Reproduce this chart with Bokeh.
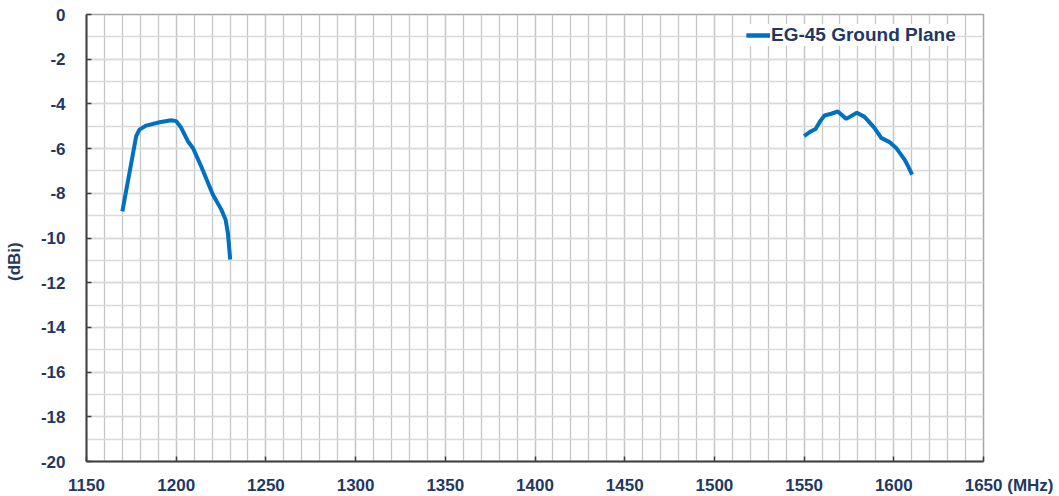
from bokeh.plotting import figure
from bokeh.models import FixedTicker, Legend, LegendItem
from bokeh.embed import file_html
from bokeh.resources import INLINE

# Data
freq_low = [1170, 1177.7, 1179.5, 1183.3, 1190.7, 1197.2, 1200, 1202.8, 1206.5, 1209.3,
            1213.9, 1220.4, 1225.1, 1227.5, 1228.8, 1230.1]
gain_low = [-8.81, -5.44, -5.15, -4.97, -4.82, -4.73, -4.77, -5.07, -5.67, -5.97,
            -6.79, -8.05, -8.72, -9.17, -9.77, -10.96]
freq_high = [1550, 1553.9, 1556.4, 1559, 1561.4, 1565.1, 1568.8, 1573.5, 1579.4, 1583.7,
             1589.2, 1593, 1597.6, 1601.3, 1606, 1607.8, 1610.2]
gain_high = [-5.44, -5.22, -5.12, -4.77, -4.52, -4.44, -4.34, -4.67, -4.40, -4.58,
             -5.07, -5.52, -5.71, -5.97, -6.49, -6.76, -7.16]
series_name = "EG-45 Ground Plane"
x_ticks = list(range(1150, 1651, 50))
x_minor = list(range(1150, 1651, 10))
y_ticks = list(range(-20, 1, 2))
y_minor = list(range(-20, 1, 1))
x_unit = "(MHz)"
y_unit = "(dBi)"

FONT = "Liberation Sans"
TXT = "#1f3864"
BLUE = "#0070c0"
NB = "\u00a0"

p = figure(width=1053, height=494, x_range=(1150, 1650), y_range=(-20, 0),
           output_backend="svg", toolbar_location=None,
           frame_width=897, frame_height=447,
           min_border_left=86, min_border_top=14, min_border_right=70, min_border_bottom=33)
p.background_fill_color = "white"
p.border_fill_color = "white"
p.outline_line_color = "#a6a6a6"
p.outline_line_width = 1.5

p.xaxis.ticker = FixedTicker(ticks=x_ticks, minor_ticks=x_minor)
p.yaxis.ticker = FixedTicker(ticks=y_ticks, minor_ticks=y_minor)

# plain hyphen minus signs, unit appended to the last x tick
p.yaxis.major_label_overrides = {t: str(t) for t in y_ticks}
x_over = {t: str(t) for t in x_ticks}
x_over[x_ticks[-1]] = NB * 11 + str(x_ticks[-1]) + " " + x_unit
p.xaxis.major_label_overrides = x_over

p.xgrid.grid_line_color = "#c6c6c6"
p.xgrid.minor_grid_line_color = "#c6c6c6"
p.xgrid.grid_line_width = 1.3
p.xgrid.minor_grid_line_width = 1.3
p.ygrid.grid_line_color = "#d9d9d9"
p.ygrid.minor_grid_line_color = "#d9d9d9"
p.ygrid.grid_line_width = 1.5
p.ygrid.minor_grid_line_width = 1.5

for ax in (p.xaxis, p.yaxis):
    ax.axis_line_color = "#404040"
    ax.axis_line_width = 2
    ax.major_tick_line_color = "#404040"
    ax.major_tick_line_width = 1.5
    ax.major_tick_in = 5
    ax.major_tick_out = 0
    ax.minor_tick_line_color = None
    ax.major_label_text_font = FONT
    ax.major_label_text_font_style = "bold"
    ax.major_label_text_font_size = "17px"
    ax.major_label_text_color = TXT
p.xaxis.major_label_standoff = 10
p.yaxis.major_label_standoff = 17

p.yaxis.axis_label = y_unit + NB * 10
p.yaxis.axis_label_text_font = FONT
p.yaxis.axis_label_text_font_style = "bold"
p.yaxis.axis_label_text_font_size = "17px"
p.yaxis.axis_label_text_color = TXT
p.yaxis.axis_label_standoff = 14

r1 = p.line(freq_low, gain_low, line_color=BLUE, line_width=4)
r2 = p.line(freq_high, gain_high, line_color=BLUE, line_width=4)

legend = Legend(items=[LegendItem(label=series_name, renderers=[r1, r2])],
                location=(660, 415), background_fill_color="white", background_fill_alpha=1,
                border_line_color=None, label_text_font=FONT, label_text_font_style="bold",
                label_text_font_size="19px", label_text_color=TXT,
                glyph_width=24, label_standoff=1, padding=4, margin=0, spacing=0)
p.add_layout(legend)

open("out.html", "w").write(file_html(p, INLINE))
